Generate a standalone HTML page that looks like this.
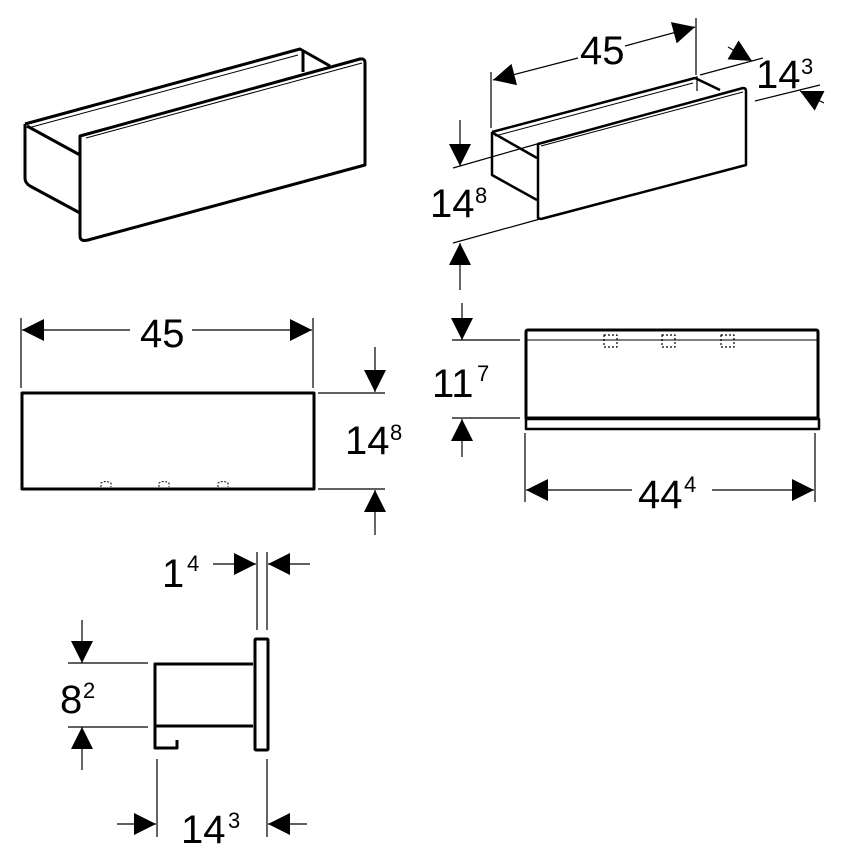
<!DOCTYPE html>
<html><head><meta charset="utf-8"><style>
html,body{margin:0;padding:0;background:#fff}
svg{display:block}
text{font-family:"Liberation Sans",sans-serif;fill:#000}
.n{font-size:40px}.s{font-size:22px}
</style></head><body>
<svg width="858" height="857" viewBox="0 0 858 857" xmlns="http://www.w3.org/2000/svg">
<defs>
<marker id="a" viewBox="0 0 10 10" refX="10" refY="5" markerWidth="22" markerHeight="22" markerUnits="userSpaceOnUse" orient="auto"><path d="M0,0L10,5L0,10z" fill="#000"/></marker>
</defs>
<g fill="none" stroke="#000" stroke-linejoin="round">
<g stroke-width="3">
<path d="M25,124 L300,49 L330,66"/>
<path d="M303,50 L303,72"/>
<path d="M25,124 L25,178 Q25,183 30,186 L80,213"/>
<path d="M27,126 L80,155"/>
<path d="M80,136 L360,59 Q365,58 365,63 L365,165 L88,240 Q80,242 80,236 Z"/>
</g>
<path d="M86,138 L362,63" stroke-width="1"/>
<path d="M28,128 L298,55" stroke-width="1"/>
<g stroke-width="2.5">
<path d="M492,132 L695,78 L720,90"/>
<path d="M492,132 L492,175 L537,200"/>
<path d="M493,133 L537,158"/>
<path d="M538,144 L743,88 Q746,88 746,91 L746,165 L541,219 L538,218 Z"/>
</g>
<path d="M541,146 L743,92" stroke-width="1"/>
<path d="M495,136 L693,83" stroke-width="1"/>
<g stroke-width="1.2">
<path d="M491,72 L491,128"/><path d="M696,18 L696,75"/><path d="M697,91 L697,76"/>
<path d="M700,75 L763,58"/><path d="M755,101 L820,85"/>
<path d="M453,168 L537,144"/><path d="M453,243 L540,219"/>
<line x1="578" y1="58" x2="493" y2="80" marker-end="url(#a)"/>
<line x1="625" y1="46" x2="695" y2="27" marker-end="url(#a)"/>
<line x1="728" y1="47" x2="752" y2="61" marker-end="url(#a)"/>
<line x1="824" y1="103" x2="800" y2="91" marker-end="url(#a)"/>
<line x1="460" y1="120" x2="460" y2="166" marker-end="url(#a)"/>
<line x1="460" y1="290" x2="460" y2="243" marker-end="url(#a)"/>
</g>
<rect x="22" y="393" width="292" height="96" stroke-width="3"/>
<g stroke-width="1.2">
<path d="M21,318 L21,388"/><path d="M313,318 L313,388"/>
<path d="M318,393 L385,393"/><path d="M318,489 L385,489"/>
<line x1="130" y1="330" x2="22" y2="330" marker-end="url(#a)"/>
<line x1="192" y1="330" x2="312" y2="330" marker-end="url(#a)"/>
<line x1="375" y1="347" x2="375" y2="392" marker-end="url(#a)"/>
<line x1="375" y1="535" x2="375" y2="490" marker-end="url(#a)"/>
</g>
<g stroke-width="1" stroke-dasharray="2,1.5">
<path d="M101,487 L101,483 Q106,480 111,483 L111,487"/>
<path d="M159,487 L159,483 Q164,480 169,483 L169,487"/>
<path d="M218,487 L218,483 Q223,480 228,483 L228,487"/>
</g>
<path d="M526,418 L526,332 Q526,330 528,330 L816,330 Q818,330 818,332 L818,418 Z" stroke-width="3"/>
<path d="M527,340 L817,340" stroke-width="1"/>
<rect x="526" y="419" width="293" height="10" stroke-width="2.5"/>
<g stroke-width="1.2" stroke-dasharray="2,2">
<rect x="604" y="335" width="13" height="12"/>
<rect x="662" y="335" width="13" height="12"/>
<rect x="721" y="335" width="13" height="12"/>
</g>
<g stroke-width="1.2">
<path d="M452,340 L520,340"/><path d="M452,418 L520,418"/>
<path d="M525,433 L525,502"/><path d="M815,433 L815,502"/>
<line x1="462" y1="303" x2="462" y2="340" marker-end="url(#a)"/>
<line x1="462" y1="457" x2="462" y2="419" marker-end="url(#a)"/>
<line x1="632" y1="490" x2="526" y2="490" marker-end="url(#a)"/>
<line x1="712" y1="490" x2="814" y2="490" marker-end="url(#a)"/>
</g>
<rect x="255" y="639" width="13" height="111" rx="1" stroke-width="3"/>
<path d="M253,664 L155,664 L155,748 L177,748 L177,740" stroke-width="3"/>
<path d="M155,726 L253,726" stroke-width="3"/>
<g stroke-width="1.2">
<path d="M257,552 L257,630"/><path d="M267,552 L267,630"/>
<path d="M68,663 L148,663"/><path d="M68,727 L148,727"/>
<path d="M157,759 L157,837"/><path d="M267,759 L267,837"/>
<line x1="213" y1="564" x2="256" y2="564" marker-end="url(#a)"/>
<line x1="310" y1="564" x2="268" y2="564" marker-end="url(#a)"/>
<line x1="82" y1="620" x2="82" y2="663" marker-end="url(#a)"/>
<line x1="82" y1="770" x2="82" y2="727" marker-end="url(#a)"/>
<line x1="117" y1="824" x2="156" y2="824" marker-end="url(#a)"/>
<line x1="307" y1="824" x2="268" y2="824" marker-end="url(#a)"/>
</g>
</g>
<text x="580" y="64" class="n">45</text>
<text x="756" y="88" class="n">14</text><text x="801" y="74" class="s">3</text>
<text x="430" y="217" class="n">14</text><text x="475" y="203" class="s">8</text>
<text x="140" y="347" class="n">45</text>
<text x="345" y="454" class="n">14</text><text x="390" y="440" class="s">8</text>
<text x="432" y="397" class="n">11</text><text x="477" y="381" class="s">7</text>
<text x="638" y="508" class="n">44</text><text x="684" y="492" class="s">4</text>
<text x="162" y="587" class="n">1</text><text x="187" y="571" class="s">4</text>
<text x="60" y="713" class="n">8</text><text x="83" y="698" class="s">2</text>
<text x="181" y="843" class="n">14</text><text x="228" y="828" class="s">3</text>
</svg>
</body></html>
